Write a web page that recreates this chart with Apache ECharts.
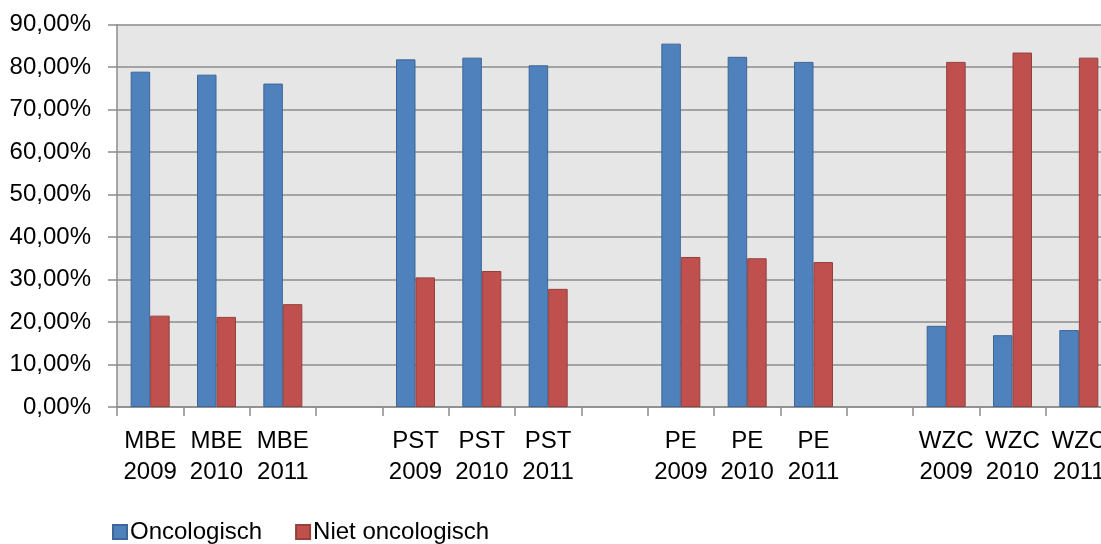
<!DOCTYPE html>
<html>
<head>
<meta charset="utf-8">
<script src="https://cdn.jsdelivr.net/npm/echarts@6/dist/echarts.min.js"></script>
<style>
  html, body { margin: 0; padding: 0; background: #fff; overflow: hidden; }
  #chart { width: 1112px; height: 544px; }
</style>
</head>
<body>
<div id="chart"></div>
<script>
// Category labels (empty strings are spacer slots between the groups)
const categories = [
  'MBE\n2009', 'MBE\n2010', 'MBE\n2011', '',
  'PST\n2009', 'PST\n2010', 'PST\n2011', '',
  'PE\n2009', 'PE\n2010', 'PE\n2011', '',
  'WZC\n2009', 'WZC\n2010', 'WZC\n2011'
];

// Share of patients per group and year (%)
const oncologisch = [78.9, 78.2, 76.1, null, 81.8, 82.2, 80.4, null, 85.5, 82.4, 81.2, null, 19.1, 16.9, 18.1];
const nietOncologisch = [21.5, 21.2, 24.2, null, 30.5, 32.0, 27.8, null, 35.3, 35.0, 34.1, null, 81.2, 83.4, 82.2];

const seriesNames = ['Oncologisch', 'Niet oncologisch'];

const FONT = '"Liberation Sans", Arial, sans-serif';

const chart = echarts.init(document.getElementById('chart'), null, { renderer: 'canvas' });

chart.setOption({
  animation: false,
  backgroundColor: '#ffffff',
  textStyle: { fontFamily: FONT },
  grid: {
    left: 117,
    top: 24.5,
    bottom: 137,
    right: 0,
    show: true,
    backgroundColor: '#e6e6e6',
    borderWidth: 0
  },
  legend: {
    data: seriesNames,
    left: 112,
    top: 520,
    padding: 0,
    itemWidth: 14,
    itemHeight: 14,
    itemGap: 33,
    icon: 'rect',
    textStyle: { fontFamily: FONT, fontSize: 24, color: '#000', padding: [0, 0, 0, -2] }
  },
  xAxis: {
    type: 'category',
    data: categories,
    axisLine: { show: true, lineStyle: { color: '#8c8c8c', width: 1.5 } },
    axisTick: { show: true, alignWithLabel: false, length: 9, lineStyle: { color: '#8c8c8c', width: 1.5 } },
    axisLabel: {
      interval: 0,
      margin: 19,
      fontFamily: FONT,
      fontSize: 24,
      lineHeight: 31,
      color: '#000'
    },
    splitLine: { show: false }
  },
  yAxis: {
    type: 'value',
    min: 0,
    max: 90,
    interval: 10,
    axisLine: { show: true, lineStyle: { color: '#8c8c8c', width: 1.5 } },
    axisTick: { show: true, length: 9, lineStyle: { color: '#8c8c8c', width: 1.5 } },
    axisLabel: {
      margin: 26,
      fontFamily: FONT,
      fontSize: 24,
      color: '#000',
      formatter: v => v.toFixed(2).replace('.', ',') + '%'
    },
    splitLine: { show: true, lineStyle: { color: '#8c8c8c', width: 1.5 } }
  },
  series: [
    {
      name: seriesNames[0],
      type: 'bar',
      data: oncologisch,
      barWidth: 19.5,
      barGap: '0%',
      itemStyle: { color: '#4f81bd', borderColor: '#3c6797', borderWidth: 1 }
    },
    {
      name: seriesNames[1],
      type: 'bar',
      data: nietOncologisch,
      barWidth: 19.5,
      barGap: '0%',
      itemStyle: { color: '#c0504d', borderColor: '#94403d', borderWidth: 1 }
    }
  ]
});
</script>
</body>
</html>
